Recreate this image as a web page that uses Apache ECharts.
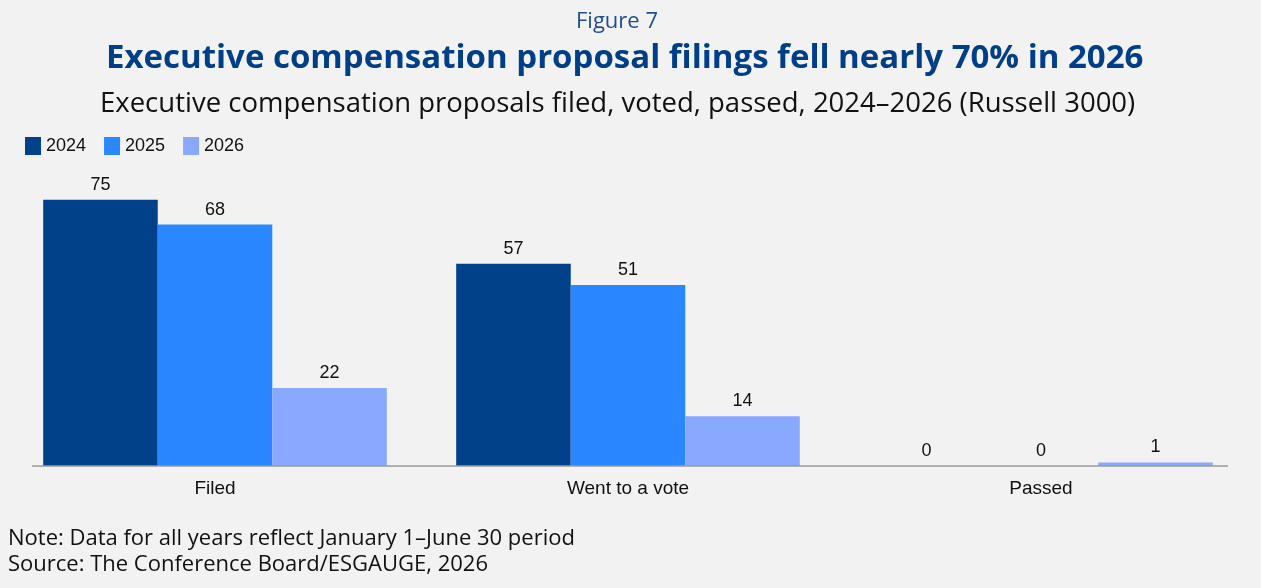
<!DOCTYPE html>
<html>
<head>
  <meta charset="utf-8">
  <title>Figure 7</title>
  <script src="https://cdn.jsdelivr.net/npm/echarts@6/dist/echarts.min.js"></script>
  <style>
    html, body { margin: 0; padding: 0; background: #f2f2f2; }
    #main { width: 1261px; height: 588px; }
  </style>
</head>
<body>
  <div id="main"></div>
  <script>
    var categories = ['Filed', 'Went to a vote', 'Passed'];
    var years = ['2024', '2025', '2026'];
    var values2024 = [75, 57, 0];
    var values2025 = [68, 51, 0];
    var values2026 = [22, 14, 1];
    var colors = ['#00418a', '#2b87ff', '#88a9ff'];

    var myChart = echarts.init(document.getElementById('main'));
    var titleFont = '"Open Sans", "Noto Sans", sans-serif';
    var labelFont = 'Arial, "Liberation Sans", sans-serif';

    function barSeries(name, data, color) {
      return {
        name: name,
        type: 'bar',
        data: data,
        barGap: 0,
        barCategoryGap: '16.8%',
        itemStyle: { color: color },
        label: {
          show: true,
          position: 'top',
          distance: 6,
          color: '#111',
          fontFamily: labelFont,
          fontSize: 18
        }
      };
    }

    var option = {
      backgroundColor: '#f2f2f2',
      animation: false,
      title: [
        { text: 'Figure 7', left: 576, top: 11, padding: 0,
          textStyle: { color: '#1f4e8c', fontSize: 22, fontWeight: 'normal', fontFamily: titleFont } },
        { text: 'Executive compensation proposal filings fell nearly 70% in 2026', left: 106, top: 42, padding: 0,
          textStyle: { color: '#003f87', fontSize: 33, fontWeight: 'bold', fontFamily: titleFont } },
        { text: 'Executive compensation proposals filed, voted, passed, 2024\u20132026 (Russell 3000)', left: 100, top: 90, padding: 0,
          textStyle: { color: '#111', fontSize: 27.5, fontWeight: 'normal', fontFamily: titleFont } },
        { text: 'Note: Data for all years reflect January 1\u2013June 30 period', left: 8, top: 528, padding: 0,
          textStyle: { color: '#111', fontSize: 22, fontWeight: 'normal', fontFamily: titleFont } },
        { text: 'Source: The Conference Board/ESGAUGE, 2026', left: 8, top: 554, padding: 0,
          textStyle: { color: '#111', fontSize: 22, fontWeight: 'normal', fontFamily: titleFont } }
      ],
      legend: {
        data: years,
        left: 25,
        top: 137,
        padding: 0,
        icon: 'rect',
        itemWidth: 16,
        itemHeight: 18,
        itemGap: 18,
        textStyle: { color: '#111', fontSize: 18, fontFamily: labelFont }
      },
      grid: {
        left: 8.5,
        right: 13.5,
        top: 182,
        bottom: 122,
        containLabel: false
      },
      graphic: [
        // baseline drawn separately because the plot's category band is wider than the axis line
        { type: 'line', shape: { x1: 32, y1: 466, x2: 1228, y2: 466 },
          style: { stroke: '#9a9a9a', lineWidth: 1.5 }, z: 10 }
      ],
      xAxis: {
        type: 'category',
        data: categories,
        axisLine: { show: false },
        axisTick: { show: false },
        axisLabel: {
          color: '#111',
          fontSize: 19,
          margin: 13,
          fontFamily: labelFont
        }
      },
      yAxis: {
        type: 'value',
        min: 0,
        max: 80,
        show: false,
        splitLine: { show: false }
      },
      series: [
        barSeries(years[0], values2024, colors[0]),
        barSeries(years[1], values2025, colors[1]),
        barSeries(years[2], values2026, colors[2])
      ]
    };
    myChart.setOption(option);
  </script>
</body>
</html>
